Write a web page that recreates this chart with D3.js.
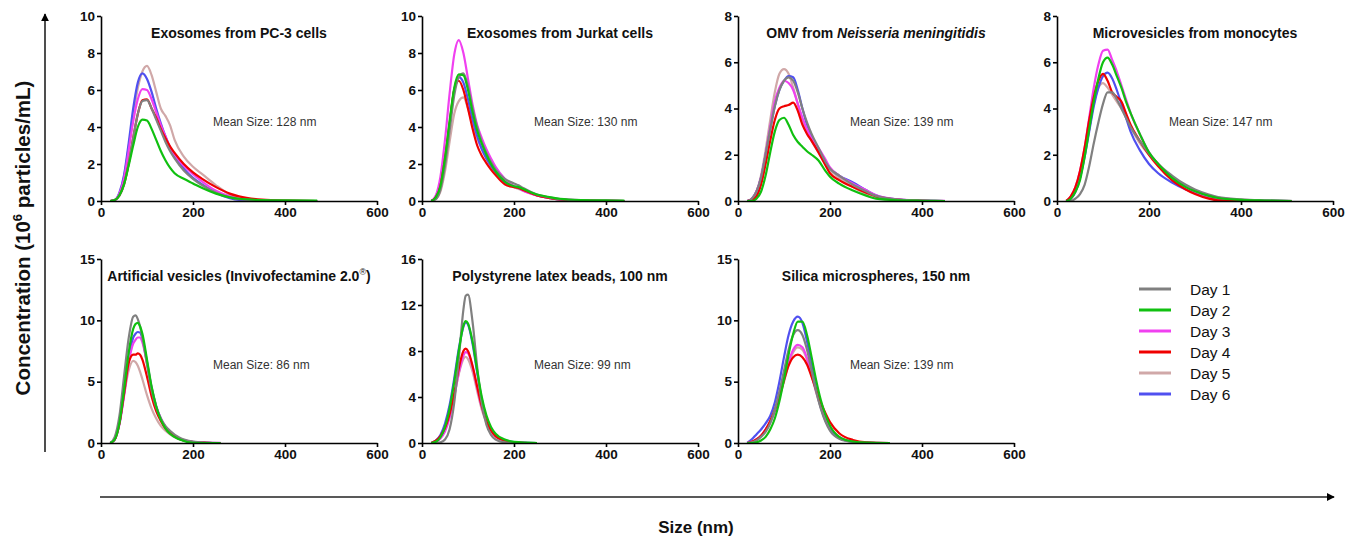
<!DOCTYPE html>
<html>
<head>
<meta charset="utf-8">
<script src="https://cdn.jsdelivr.net/npm/d3@7.9.0/dist/d3.min.js"></script>
<style>
  body { margin: 0; background: #fff; }
  svg { display: block; font-family: "Liberation Sans", Arial, sans-serif; }
  .tick text { font-size: 13.5px; font-weight: bold; fill: #111; }
  .title { font-size: 14px; font-weight: bold; fill: #111; }
  .mean { font-size: 12px; fill: #333; }
</style>
</head>
<body>
<svg width="1361" height="544"></svg>
<script>
const days = ["Day 1", "Day 2", "Day 3", "Day 4", "Day 5", "Day 6"];
const dayColors = ["#808080", "#10c010", "#f040f0", "#f00000", "#d0a8a8", "#5050f0"];
const drawOrder = [4, 5, 2, 3, 0, 1];

// exosomes from PC-3 cells
const pc3Size = [20,30,40,50,60,70,80,90,100,110,120,130,140,150,160,180,200,220,250,280,300,350,400,470];
const pc3Conc = [
  [0,0.05,0.3,0.9,2.0,3.4,4.7,5.4,5.45,5.0,4.4,3.8,3.2,2.7,2.3,1.65,1.2,0.85,0.45,0.2,0.1,0.03,0.01,0],
  [0,0.05,0.3,0.9,1.9,3.0,4.0,4.4,4.35,3.9,3.3,2.7,2.2,1.8,1.5,1.2,0.95,0.7,0.4,0.2,0.12,0.05,0.03,0.02],
  [0,0.05,0.4,1.2,2.7,4.3,5.5,6.05,6.0,5.5,4.8,4.1,3.5,2.9,2.5,1.9,1.45,1.05,0.55,0.25,0.12,0.04,0.01,0],
  [0,0.05,0.3,0.9,2.0,3.4,4.7,5.45,5.5,5.0,4.5,3.9,3.4,2.95,2.6,2.0,1.55,1.2,0.75,0.4,0.25,0.07,0.02,0],
  [0,0.05,0.4,1.3,2.9,4.6,6.1,7.0,7.3,6.8,5.9,5.0,4.6,4.1,3.3,2.4,1.85,1.45,0.85,0.35,0.15,0.04,0.01,0],
  [0,0.05,0.45,1.4,3.1,5.0,6.4,6.9,6.6,5.9,5.0,4.2,3.5,2.9,2.4,1.75,1.25,0.9,0.45,0.15,0.06,0.02,0,0]
];

// exosomes from Jurkat cells
const jurkatSize = [20,30,40,50,60,70,80,90,100,110,120,130,140,150,160,180,200,210,220,250,280,300,350,400,440];
const jurkatConc = [
  [0,0.1,0.6,1.9,3.8,5.7,6.7,6.9,6.2,5.0,4.0,3.2,2.6,2.1,1.7,1.2,0.95,0.85,0.7,0.35,0.18,0.1,0.03,0.01,0],
  [0,0.2,0.8,2.3,4.3,6.1,6.85,6.8,6.0,4.8,3.8,3.1,2.5,2.0,1.6,1.05,0.8,0.75,0.65,0.35,0.2,0.12,0.05,0.03,0.02],
  [0,0.3,1.3,3.3,5.8,7.9,8.7,8.0,6.6,5.2,4.1,3.4,2.8,2.3,1.85,1.2,0.8,0.7,0.55,0.3,0.15,0.1,0.04,0.01,0],
  [0,0.2,0.8,2.3,4.2,6.0,6.5,6.0,5.0,3.9,3.0,2.45,2.05,1.7,1.4,0.9,0.75,0.7,0.6,0.3,0.15,0.08,0.03,0.01,0],
  [0,0.1,0.5,1.6,3.2,4.7,5.4,5.6,5.0,4.1,3.4,2.8,2.3,1.9,1.55,1.05,0.75,0.65,0.55,0.3,0.15,0.08,0.03,0.01,0],
  [0,0.2,0.8,2.2,4.1,6.0,6.7,6.4,5.5,4.4,3.5,2.8,2.3,1.9,1.55,1.0,0.8,0.7,0.6,0.3,0.15,0.08,0.03,0.01,0]
];

// OMV from Neisseria meningitidis
const omvSize = [20,30,40,50,60,70,80,90,100,110,120,130,140,150,160,175,190,200,220,250,280,300,350,400,450];
const omvConc = [
  [0,0.1,0.4,1.0,2.0,3.1,4.1,4.8,5.2,5.35,5.2,4.7,4.0,3.4,2.9,2.3,1.7,1.4,1.1,0.7,0.4,0.22,0.06,0.02,0],
  [0,0,0.1,0.4,1.1,2.1,3.0,3.5,3.6,3.3,2.85,2.55,2.35,2.15,2.0,1.75,1.3,1.05,0.75,0.45,0.22,0.1,0.03,0.01,0],
  [0,0.1,0.4,1.0,2.0,3.2,4.3,4.9,5.2,5.1,4.8,4.2,3.6,3.1,2.7,2.3,1.8,1.45,1.1,0.75,0.45,0.25,0.07,0.02,0.01],
  [0,0.05,0.2,0.7,1.6,2.6,3.5,4.0,4.1,4.15,4.25,3.9,3.3,2.9,2.6,2.1,1.55,1.2,0.9,0.6,0.35,0.2,0.05,0.01,0],
  [0,0.1,0.4,1.1,2.2,3.5,4.7,5.5,5.7,5.5,4.9,4.2,3.5,3.0,2.6,2.1,1.6,1.35,1.0,0.6,0.3,0.18,0.05,0.02,0],
  [0,0.1,0.4,1.0,2.0,3.1,4.1,4.8,5.2,5.4,5.35,4.8,4.0,3.3,2.8,2.2,1.65,1.4,1.1,0.8,0.45,0.25,0.06,0.02,0]
];

// microvesicles from monocytes
const monoSize = [20,30,40,50,60,70,80,90,100,110,120,130,140,150,160,180,200,220,250,280,300,330,350,400,450,510];
const monoConc = [
  [0,0,0.1,0.3,0.7,1.5,2.5,3.4,4.2,4.7,4.7,4.4,4.0,3.6,3.2,2.6,2.05,1.6,1.1,0.7,0.5,0.28,0.17,0.07,0.03,0.01],
  [0,0.1,0.4,0.9,1.9,3.1,4.3,5.3,6.0,6.2,5.9,5.4,4.9,4.3,3.8,2.9,2.1,1.6,1.0,0.6,0.42,0.22,0.13,0.05,0.02,0],
  [0,0.2,0.6,1.3,2.3,3.6,4.9,5.9,6.5,6.55,6.1,5.6,5.0,4.4,3.8,2.9,2.1,1.6,1.0,0.6,0.4,0.2,0.12,0.04,0.01,0],
  [0,0.2,0.6,1.3,2.3,3.5,4.5,5.2,5.5,5.2,4.7,4.5,4.3,3.8,3.3,2.6,2.0,1.5,0.9,0.5,0.3,0.1,0.03,0,0,0],
  [0,0.1,0.4,1.0,2.0,3.1,4.2,4.9,5.1,4.9,4.6,4.3,4.0,3.6,3.2,2.5,2.0,1.6,1.05,0.65,0.45,0.25,0.15,0.06,0.02,0],
  [0,0.1,0.4,1.0,1.9,3.0,4.1,4.9,5.4,5.55,5.3,4.8,4.2,3.6,3.0,2.2,1.6,1.2,0.8,0.5,0.35,0.17,0.1,0.03,0.01,0]
];

// artificial vesicles
const artSize = [20,30,40,50,60,70,75,80,85,90,100,110,120,130,140,150,170,200,230,260];
const artConc = [
  [0,0.5,2.2,5.4,8.5,10.3,10.4,10.1,9.5,8.6,6.4,4.3,2.9,2.0,1.4,1.0,0.45,0.12,0.03,0],
  [0,0.3,1.6,4.3,7.3,9.3,9.7,9.8,9.5,8.9,6.8,4.6,3.0,1.9,1.2,0.75,0.3,0.02,0,0],
  [0,0.3,1.5,3.8,6.5,8.1,8.4,8.6,8.6,8.2,6.5,4.5,3.0,2.0,1.3,0.85,0.35,0.1,0.03,0.01],
  [0,0.3,1.6,4.0,6.5,7.2,7.2,7.3,7.2,6.8,5.4,3.8,2.6,1.8,1.2,0.8,0.35,0.08,0.02,0],
  [0,0.3,1.6,3.9,5.9,6.7,6.6,6.3,5.8,5.2,3.9,2.8,2.0,1.4,1.0,0.7,0.3,0.08,0.02,0],
  [0,0.3,1.6,4.0,6.8,8.6,8.9,9.05,9.0,8.5,6.6,4.5,3.0,2.0,1.3,0.85,0.35,0.08,0.02,0]
];

// polystyrene latex beads
const latexSize = [20,30,40,50,60,70,80,90,95,100,110,120,130,140,150,160,180,200,230,250];
const latexConc = [
  [0,0,0.05,0.3,1.2,3.5,7.3,11.6,12.8,12.9,10.5,6.6,3.4,1.6,0.7,0.3,0.05,0,0,0],
  [0,0.1,0.5,1.4,3.0,5.3,8.0,10.2,10.6,10.4,8.8,6.3,4.0,2.4,1.4,0.8,0.3,0.1,0.03,0],
  [0,0.1,0.4,1.0,2.2,4.0,6.1,7.6,7.9,7.8,6.6,4.8,3.1,1.9,1.1,0.6,0.2,0.05,0,0],
  [0,0.2,0.6,1.3,2.5,4.3,6.5,8.0,8.2,8.0,6.7,4.9,3.2,1.9,1.1,0.6,0.2,0.05,0,0],
  [0,0.1,0.5,1.2,2.4,4.1,6.0,7.3,7.5,7.3,6.2,4.5,2.9,1.8,1.0,0.55,0.2,0.05,0,0],
  [0,0.2,0.7,1.7,3.3,5.6,8.2,10.1,10.5,10.3,8.6,6.1,3.8,2.2,1.2,0.7,0.25,0.08,0.02,0]
];

// silica microspheres
const silicaSize = [20,30,40,50,60,70,80,90,100,110,120,130,140,150,160,170,180,200,220,250,280,330];
const silicaConc = [
  [0,0.05,0.2,0.5,0.9,1.6,2.7,4.2,5.9,7.6,8.8,9.2,8.8,7.6,5.9,4.2,2.8,1.0,0.35,0.08,0.02,0],
  [0,0,0.05,0.2,0.5,1.1,2.0,3.4,5.2,7.2,8.9,9.9,9.9,8.8,7.0,5.1,3.5,1.4,0.5,0.12,0.03,0],
  [0,0.1,0.3,0.6,1.1,1.7,2.6,3.8,5.2,6.6,7.6,8.0,7.8,6.9,5.6,4.2,3.0,1.3,0.5,0.12,0.03,0],
  [0,0.1,0.3,0.6,1.1,1.8,2.7,3.8,5.1,6.3,7.0,7.2,7.0,6.4,5.4,4.3,3.3,1.7,0.8,0.25,0.06,0],
  [0,0.1,0.3,0.6,1.1,1.7,2.6,3.7,5.0,6.4,7.4,7.8,7.6,6.8,5.5,4.1,2.9,1.2,0.45,0.1,0.02,0],
  [0,0.3,0.7,1.1,1.6,2.2,3.3,5.0,7.0,8.8,9.9,10.3,9.8,8.3,6.3,4.4,2.9,1.1,0.4,0.1,0.02,0]
];

const sizeGrids = [pc3Size, jurkatSize, omvSize, monoSize, artSize, latexSize, silicaSize];
const concSets = [pc3Conc, jurkatConc, omvConc, monoConc, artConc, latexConc, silicaConc];
const meanSizes = [128, 130, 139, 147, 86, 99, 139];
const yMaxes = [10, 10, 8, 8, 15, 16, 15];
const yTicks = [[0,2,4,6,8,10],[0,2,4,6,8,10],[0,2,4,6,8],[0,2,4,6,8],[0,5,10,15],[0,4,8,12,16],[0,5,10,15]];
const xTicks = [0, 200, 400, 600];

const svg = d3.select("svg");

// panel frames: left edge of axis, zero line, top of y range
const panelX = [101, 422, 738, 1057, 101, 422, 738];
const panelY0 = [201, 201, 201, 201, 443, 443, 443];
const panelTop = [16, 16, 16, 16, 259, 259, 259];
const plotW = 276;

const titles = [
  [{t: "Exosomes from PC-3 cells"}],
  [{t: "Exosomes from Jurkat cells"}],
  [{t: "OMV from "}, {t: "Neisseria meningitidis", italic: true}],
  [{t: "Microvesicles from monocytes"}],
  [{t: "Artificial vesicles (Invivofectamine 2.0"}, {t: "®", sup: true}, {t: ")"}],
  [{t: "Polystyrene latex beads, 100 nm"}],
  [{t: "Silica microspheres, 150 nm"}]
];

sizeGrids.forEach((grid, i) => {
  const g = svg.append("g").attr("transform", `translate(${panelX[i]},0)`);
  const x = d3.scaleLinear().domain([0, 600]).range([0, plotW]);
  const y = d3.scaleLinear().domain([0, yMaxes[i]]).range([panelY0[i], panelTop[i]]);

  const line = d3.line()
    .x((d, k) => x(grid[k]))
    .y(d => y(d))
    .curve(d3.curveMonotoneX);

  drawOrder.forEach(di => {
    g.append("path")
      .attr("d", line(concSets[i][di]))
      .attr("fill", "none")
      .attr("stroke", dayColors[di])
      .attr("stroke-width", 2.2)
      .attr("stroke-linejoin", "round");
  });

  const xa = g.append("g").attr("transform", `translate(0,${panelY0[i]})`)
    .call(d3.axisBottom(x).tickValues(xTicks).tickSize(4).tickSizeOuter(0).tickPadding(2));
  const ya = g.append("g")
    .call(d3.axisLeft(y).tickValues(yTicks[i]).tickSize(4).tickSizeOuter(0).tickPadding(2));
  [xa, ya].forEach(a => {
    a.select(".domain").attr("stroke", "#000").attr("stroke-width", 1.6);
    a.selectAll(".tick line").attr("stroke", "#000").attr("stroke-width", 1.6);
    a.attr("font-family", null).attr("font-size", null);
  });

  const tt = g.append("text").attr("class", "title")
    .attr("x", plotW / 2).attr("y", panelTop[i] + 22)
    .attr("text-anchor", "middle");
  titles[i].forEach(p => {
    const s = tt.append("tspan").text(p.t);
    if (p.italic) s.attr("font-style", "italic");
    if (p.sup) s.attr("font-size", "9px").attr("font-weight", "normal").attr("dy", -6);
    else if (titles[i].some(q => q.sup) && p.t === ")") s.attr("dy", 6);
  });

  g.append("text").attr("class", "mean")
    .attr("x", 112).attr("y", panelTop[i] + 110)
    .text(`Mean Size: ${meanSizes[i]} nm`);
});

// legend
const legend = svg.append("g").attr("transform", "translate(1139,289)");
days.forEach((d, i) => {
  const yy = i * 21;
  legend.append("line")
    .attr("x1", 0).attr("x2", 32).attr("y1", yy).attr("y2", yy)
    .attr("stroke", dayColors[i]).attr("stroke-width", 3);
  legend.append("text")
    .attr("x", 51).attr("y", yy + 6)
    .attr("font-size", "15.5px").attr("fill", "#111")
    .text(d);
});

// shared axis arrows
const defs = svg.append("defs");
defs.append("marker").attr("id", "arrow")
  .attr("viewBox", "0 0 10 10").attr("refX", 9).attr("refY", 5)
  .attr("markerWidth", 5).attr("markerHeight", 5).attr("orient", "auto")
  .append("path").attr("d", "M0,0L10,5L0,10Z").attr("fill", "#000");

svg.append("line").attr("x1", 45).attr("x2", 45).attr("y1", 452).attr("y2", 14)
  .attr("stroke", "#222").attr("stroke-width", 1.6).attr("marker-end", "url(#arrow)");
svg.append("line").attr("x1", 100).attr("x2", 1334).attr("y1", 497).attr("y2", 497)
  .attr("stroke", "#222").attr("stroke-width", 1.6).attr("marker-end", "url(#arrow)");

const yl = svg.append("text")
  .attr("transform", "translate(30,238) rotate(-90)")
  .attr("text-anchor", "middle")
  .attr("font-size", "20.5px").attr("font-weight", "bold").attr("fill", "#111");
yl.append("tspan").text("Concentration (10");
yl.append("tspan").text("6").attr("font-size", "13px").attr("dy", -8);
yl.append("tspan").text(" particles/mL)").attr("dy", 8);

svg.append("text")
  .attr("x", 696).attr("y", 533)
  .attr("text-anchor", "middle")
  .attr("font-size", "17px").attr("font-weight", "bold").attr("fill", "#111")
  .text("Size (nm)");
</script>
</body>
</html>
